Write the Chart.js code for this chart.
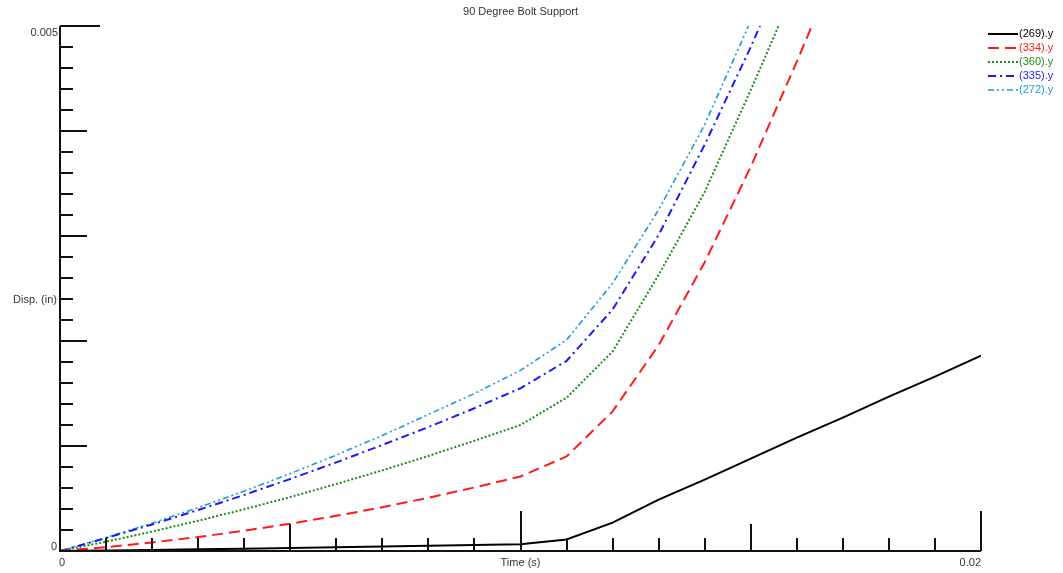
<!DOCTYPE html>
<html>
<head>
<meta charset="utf-8">
<title>90 Degree Bolt Support</title>
<script src="https://cdn.jsdelivr.net/npm/chart.js@4/dist/chart.umd.min.js"></script>
<style>
body{margin:0;background:#fff}
#wrap{width:1063px;height:573px}
</style>
</head>
<body>
<div id="wrap"><canvas id="boltChart" width="1063" height="573"></canvas></div>
<script>

// ===============================
// DATA
// ===============================

const times = [0,0.001,0.002,0.003,0.004,0.005,0.006,0.007,0.008,0.009,0.01,
0.011,0.012,0.013,0.014,0.015,0.016,0.017,0.018,0.019,0.02]

const node269 = [0,0.000005,0.00001,0.000016,0.000022,0.000029,0.000036,0.000043,0.00005,0.000057,0.000064,
0.00011,0.00027,0.00049,0.00068,0.00088,0.00108,0.00127,0.00147,0.00166,0.00186]

const node334 = [0,0.000037,0.000081,0.000133,0.000193,0.00026,0.000335,0.000417,0.000507,0.000605,0.00071,
0.0009,0.00133,0.00196,0.00275,0.00366,0.00466,0.0057,null,null,null]

const node360 = [0,0.000089,0.000185,0.000288,0.000397,0.000514,0.000638,0.000768,0.000905,0.00105,0.0012,
0.00146,0.0019,0.00263,0.00342,0.00439,0.0054,null,null,null,null]

const node335 = [0,0.000123,0.000253,0.00039,0.000534,0.000686,0.000844,0.00101,0.00118,0.00136,0.00155,
0.00181,0.0023,0.00301,0.00387,0.0048,0.0058,null,null,null,null]

const node272 = [0,0.000128,0.000265,0.000413,0.00057,0.000737,0.000914,0.0011,0.0013,0.0015,0.00172,
0.00201,0.00255,0.00325,0.00406,0.00505,0.006,null,null,null,null]

const seriesNames = ["(269).y","(334).y","(360).y","(335).y","(272).y"]

const xTickLabels = ["0","0.02"]
const yTickLabels = ["0","0.005"]

const X_MAX = 0.02
const Y_MAX = 0.005

function toPoints(values){
return times.map((t,i)=>({x:t,y:values[i]}))
}

// ===============================
// AXES, TICKS, LABELS, LEGEND
// ===============================

const axisDecor = {

id:"axisDecor",

afterDraw(chart){

const ctx = chart.ctx
const xs = chart.scales.x
const ys = chart.scales.y
const x0 = xs.getPixelForValue(0)
const y0 = ys.getPixelForValue(0)

ctx.save()
ctx.strokeStyle = "#111"
ctx.lineWidth = 2

// axis lines
ctx.beginPath()
ctx.moveTo(x0, ys.getPixelForValue(Y_MAX))
ctx.lineTo(x0, y0)
ctx.lineTo(xs.getPixelForValue(X_MAX), y0)
ctx.stroke()

// x ticks point up into the plot
for(let i=1;i<=20;i++){
const px = Math.round(xs.getPixelForValue(i*0.001))
let len = 13
if(i%5===0) len = 27
if(i%10===0) len = 40
ctx.beginPath()
ctx.moveTo(px, y0)
ctx.lineTo(px, y0-len)
ctx.stroke()
}

// y ticks point right into the plot
for(let i=1;i<=25;i++){
const py = Math.round(ys.getPixelForValue(i*0.0002))
let len = 13
if(i%5===0) len = 27
if(i%25===0) len = 40
ctx.beginPath()
ctx.moveTo(x0, py)
ctx.lineTo(x0+len, py)
ctx.stroke()
}

ctx.fillStyle = "#333"
ctx.font = "11px 'Liberation Sans', Arial, sans-serif"
ctx.textBaseline = "middle"

// tick labels
ctx.textAlign = "right"
ctx.fillText(yTickLabels[0], x0-3, y0-4)
ctx.fillText(yTickLabels[1], x0-2, ys.getPixelForValue(Y_MAX)+7)

ctx.textAlign = "left"
ctx.fillText(xTickLabels[0], x0-1, y0+12)
ctx.textAlign = "right"
ctx.fillText(xTickLabels[1], xs.getPixelForValue(X_MAX), y0+12)

// axis titles
ctx.textAlign = "center"
ctx.fillText("Time (s)", xs.getPixelForValue(0.01), y0+12)
ctx.textAlign = "right"
ctx.fillText("Disp. (in)", x0-3, 300)

// title
ctx.textAlign = "center"
ctx.fillText("90 Degree Bolt Support", xs.getPixelForValue(0.01), 12)

// legend
chart.data.datasets.forEach((ds,i)=>{
const ly = 34 + i*14
ctx.beginPath()
ctx.strokeStyle = ds.borderColor
ctx.lineWidth = ds.borderWidth
ctx.setLineDash(ds.borderDash || [])
ctx.moveTo(988, ly)
ctx.lineTo(1018, ly)
ctx.stroke()
ctx.setLineDash([])
ctx.fillStyle = ds.borderColor
ctx.textAlign = "left"
ctx.fillText(ds.label, 1019, ly)
})

ctx.restore()

}

}

// ===============================
// CHART
// ===============================

const ctx = document.getElementById("boltChart")

new Chart(ctx,{

type:"line",

data:{

datasets:[

{
label:seriesNames[0],
data:toPoints(node269),
borderColor:"#000000",
borderWidth:2
},

{
label:seriesNames[1],
data:toPoints(node334),
borderColor:"#ff1a1a",
borderWidth:2,
borderDash:[11,6]
},

{
label:seriesNames[2],
data:toPoints(node360),
borderColor:"#1a8c1a",
borderWidth:2,
borderDash:[2,2]
},

{
label:seriesNames[3],
data:toPoints(node335),
borderColor:"#1a1aff",
borderWidth:2,
borderDash:[8,4,2,4]
},

{
label:seriesNames[4],
data:toPoints(node272),
borderColor:"#1a9ad6",
borderWidth:1.6,
borderDash:[6,3,2,3,2,3]
}

]

},

options:{

responsive:false,
animation:false,

layout:{
padding:{left:60,right:82,top:26,bottom:22}
},

elements:{
point:{radius:0},
line:{tension:0}
},

plugins:{
legend:{display:false},
tooltip:{enabled:false}
},

scales:{

x:{
type:"linear",
display:false,
min:0,
max:X_MAX
},

y:{
type:"linear",
display:false,
min:0,
max:Y_MAX
}

}

},

plugins:[axisDecor]

})

</script>
</body>
</html>
